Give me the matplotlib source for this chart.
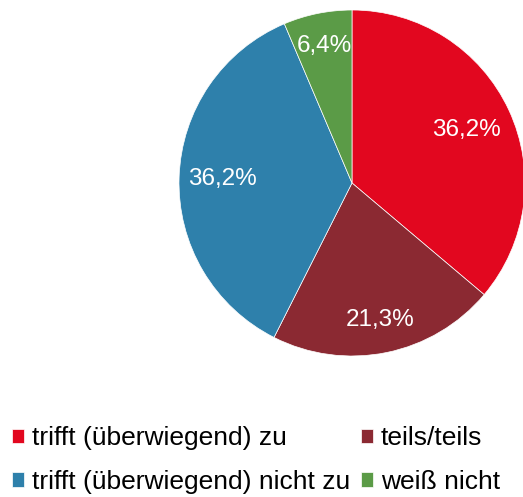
import matplotlib.pyplot as plt
import numpy as np

plt.rcParams['font.family'] = ['Liberation Sans', 'DejaVu Sans']

# Data
categories = ["trifft (überwiegend) zu", "teils/teils",
              "trifft (überwiegend) nicht zu", "weiß nicht"]
values = [36.2, 21.3, 36.2, 6.4]
labels = ["36,2%", "21,3%", "36,2%", "6,4%"]
colors = ["#E2071F", "#8B2932", "#2E80AB", "#5B9B47"]
label_dist = [0.73, 0.81, 0.75, 0.81]

W, H = 523, 497
fig = plt.figure(figsize=(W / 100, H / 100), dpi=100)

# pie centre (352, 183), radius 173 px
cx, cy, r = 352, 183, 173
ax = fig.add_axes([(cx - r) / W, (H - cy - r) / H, 2 * r / W, 2 * r / H])
wedges, _ = ax.pie(values, colors=colors, startangle=90, counterclock=False,
                   radius=1, wedgeprops=dict(linewidth=0.5, edgecolor="white"))
ax.set_xlim(-1, 1)
ax.set_ylim(-1, 1)
ax.set_aspect("equal")
ax.axis("off")

for w, lab, d in zip(wedges, labels, label_dist):
    ang = np.deg2rad((w.theta1 + w.theta2) / 2)
    ax.text(d * np.cos(ang), d * np.sin(ang), lab, color="white",
            fontsize=17.5, ha="center", va="center")

# legend (reordered so that rows read A B / C D)
order = [0, 2, 1, 3]
fig.legend([wedges[i] for i in order], [categories[i] for i in order],
           ncol=2, loc="center left", bbox_to_anchor=(12 / W, 1 - 460 / H),
           frameon=False, fontsize=19, borderpad=0, borderaxespad=0,
           handlelength=0.46, handleheight=0.46,
           handletextpad=0.3, columnspacing=0.4, labelspacing=0.75)

fig.savefig("out.png", dpi=100)
